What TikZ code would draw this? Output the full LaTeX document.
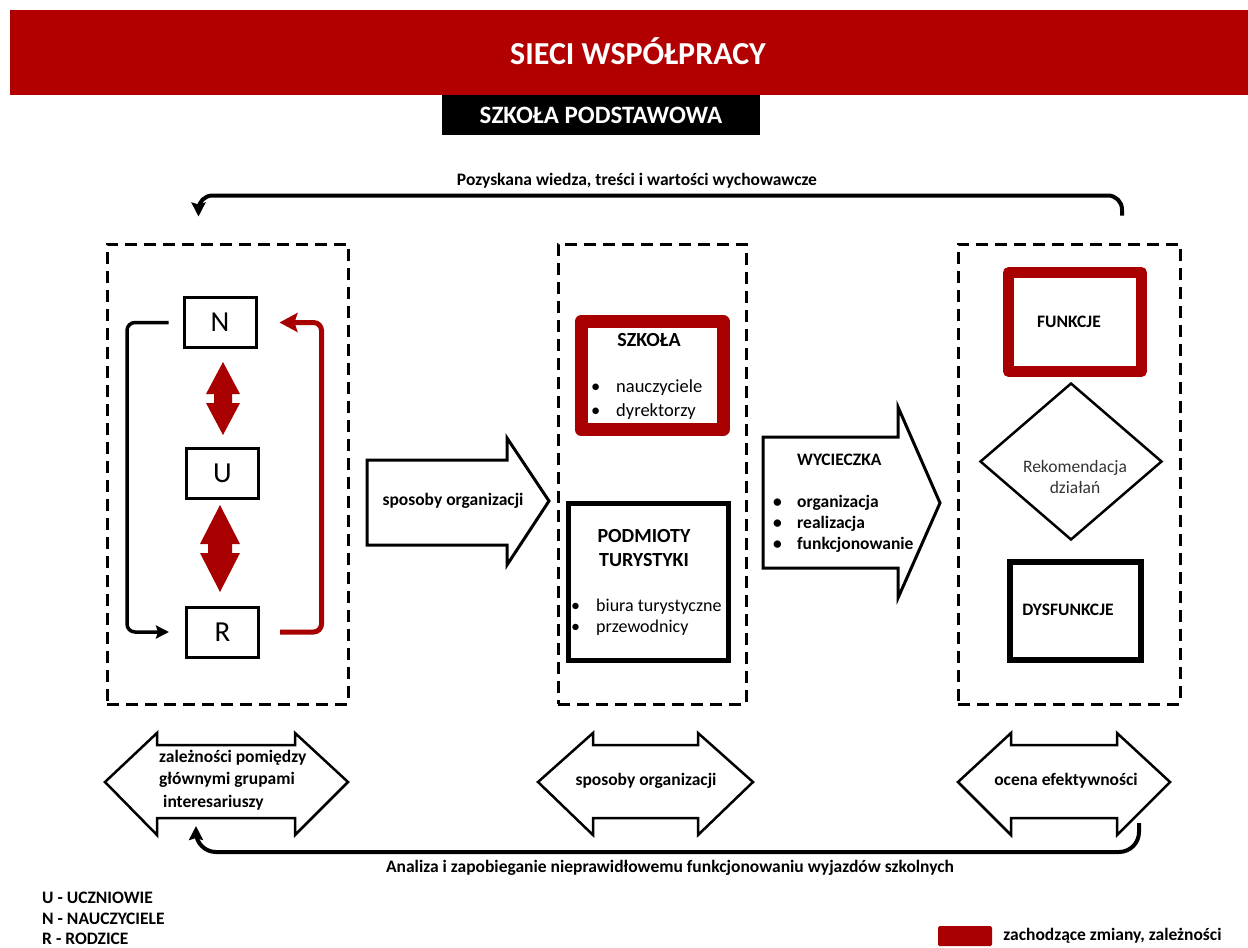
\documentclass[tikz,border=0pt]{standalone}
\usepackage{fontspec}
\setmainfont{Carlito}
\usetikzlibrary{positioning, calc, arrows.meta, shapes.geometric}
\definecolor{czerwien}{RGB}{178,0,0}
\definecolor{bordo}{RGB}{168,0,0}
\tikzset{
  opis/.style={font=\fontsize{17.5}{22.5}\selectfont\bfseries, inner sep=0pt},
  tekst/.style={font=\fontsize{18.5}{22}\selectfont, inner sep=0pt},
  naglowekbox/.style={font=\fontsize{20}{22}\selectfont\bfseries, inner sep=0pt},
  ramka/.style={draw, line width=3pt, dash pattern=on 12pt off 7pt, inner sep=0pt},
  litera/.style={draw, line width=3pt, minimum width=72, minimum height=50, inner sep=0pt, font=\fontsize{29}{30}\selectfont},
  kontur/.style={draw, line width=3pt, line join=miter},
  petla/.style={line width=3.5pt, rounded corners=8, -{Stealth[length=13pt, width=13pt, inset=2pt]}},
  czerwonapetla/.style={draw=bordo, line width=5pt, rounded corners=8, -{Stealth[length=18pt, width=19pt, inset=3pt]}},
  powrot/.style={line width=4pt, rounded corners=14, -{Stealth[length=14pt, width=14pt, inset=2pt]}}
}
\begin{document}
\begin{tikzpicture}[x=1pt, y=-1pt]
\useasboundingbox (0,0) rectangle (1248,948);
% naglowek
\node[fill=czerwien, minimum width=1238, minimum height=85, inner sep=0pt, anchor=north west] (pasek) at (10,10) {};
\node[font=\fontsize{32}{34}\selectfont\bfseries, text=white] (tytul) at (638,51) {SIECI WSPÓŁPRACY};
\node[fill=black, text=white, minimum width=318, minimum height=40, inner sep=0pt, font=\fontsize{25}{27}\selectfont\bfseries] (podtytul) at (601,115) {SZKOŁA PODSTAWOWA};

% ramki
\node[ramka, minimum width=241, minimum height=460] (ramkaL) at (227.5,474) {};
\node[ramka, minimum width=188, minimum height=460] (ramkaS) at (652,474) {};
\node[ramka, minimum width=222, minimum height=460] (ramkaP) at (1069,474) {};

% grupy N U R
\node[litera] (N) at (220,322.5) {N};
\node[litera] (U) at (222.5,473.5) {U};
\node[litera] (R) at (222.5,632) {R};
\draw[petla] ($(N.west)+(-14,0)$) -| ($(R.west)+(-58,0)$) -- ($(R.west)+(-16,0)$);
\draw[czerwonapetla] ($(R.east)+(20,0)$) -| ($(N.east)+(64,0)$) -- ($(N.east)+(22,0)$);
\fill[bordo] (223,362) -- (206,394) -- (214,394) -- (214,403) -- (206,403) -- (223,435)
  -- (240,403) -- (232,403) -- (232,394) -- (240,394) -- cycle;
\fill[bordo] (220,505) -- (200,544) -- (208,544) -- (208,553) -- (200,553) -- (220,592)
  -- (240,553) -- (232,553) -- (232,544) -- (240,544) -- cycle;

% strzalka sposoby organizacji
\draw[kontur] (367,460) -- (507,460) -- (507,438) -- (549,501) -- (507,565) -- (507,545) -- (367,545) -- cycle;
\node[opis] (sposob) at (453,501) {sposoby organizacji};

% szkola i podmioty
\node[draw=bordo, line width=13pt, line join=round, minimum width=142, minimum height=108] (szkolaBox) at (652,375.5) {};
\node[naglowekbox] (szkolaT) at (649,340) {SZKOŁA};
\node[tekst, anchor=base west] (naucz) at (591,392) {\makebox[25pt][l]{\textbullet}nauczyciele};
\node[tekst, anchor=base west] (dyrek) at (591,416) {\makebox[25pt][l]{\textbullet}dyrektorzy};
\node[draw, line width=5pt, minimum width=160, minimum height=157] (podmioty) at (648.5,582) {};
\node[naglowekbox, align=center] (podmiotyT) at (644,548) {PODMIOTY\\[2pt]TURYSTYKI};
\node[tekst, font=\fontsize{18}{22}\selectfont, anchor=base west] (biura) at (571,611) {\makebox[25pt][l]{\textbullet}biura turystyczne};
\node[tekst, font=\fontsize{18}{22}\selectfont, anchor=base west] (przew) at (571,632) {\makebox[25pt][l]{\textbullet}przewodnicy};

% strzalka wycieczka
\draw[kontur] (763,437) -- (898,437) -- (898,407) -- (940,503) -- (898,598) -- (898,568) -- (763,568) -- cycle;
\node[opis, anchor=base west] (wyc) at (797,465) {WYCIECZKA};
\node[opis, anchor=base west] (org) at (773,507) {\makebox[24pt][l]{\textbullet}organizacja};
\node[opis, anchor=base west] (real) at (773,528) {\makebox[24pt][l]{\textbullet}realizacja};
\node[opis, anchor=base west] (funk) at (773,549) {\makebox[24pt][l]{\textbullet}funkcjonowanie};

% funkcje / dysfunkcje
\node[draw=bordo, line width=11pt, line join=round, minimum width=133, minimum height=99] (funkcje) at (1075,322) {};
\node[opis] (funkcjeT) at (1069,322) {FUNKCJE};
\node[draw, diamond, line width=2.5pt, minimum width=182, minimum height=157, inner sep=0pt] (rekom) at (1071,461.5) {};
\node[font=\fontsize{17.5}{20.5}\selectfont, text=black!80, align=center] (rekomT) at (1075,477) {Rekomendacja\\działań};
\node[draw, line width=6pt, minimum width=131, minimum height=98] (dysf) at (1075.5,611) {};
\node[opis] (dysfT) at (1068,610) {DYSFUNKCJE};

% dolne strzalki
\draw[kontur, line width=2.5pt] (105,782) -- (157,733) -- (157,745) -- (295,745) -- (295,733) -- (348,782)
  -- (295,835) -- (295,818) -- (157,818) -- (157,835) -- cycle;
\draw[kontur, line width=2.5pt] (538,782) -- (593,733) -- (593,745) -- (698,745) -- (698,733) -- (753,782)
  -- (698,835) -- (698,818) -- (593,818) -- (593,835) -- cycle;
\draw[kontur, line width=2.5pt] (958,782) -- (1011,733) -- (1011,745) -- (1117,745) -- (1117,733) -- (1170,782)
  -- (1117,835) -- (1117,818) -- (1011,818) -- (1011,835) -- cycle;
\node[opis, align=left, anchor=west] (zalez) at (159,780) {zależności pomiędzy\\głównymi grupami\\\hspace*{4pt}interesariuszy};
\node[opis] (sposob2) at (646,781) {sposoby organizacji};
\node[opis] (ocena) at (1066,781) {ocena efektywności};

% petle zwrotne
\coordinate (gS) at ($(ramkaP.north)+(53,-27)$);
\coordinate (gK) at ($(ramkaL.north)+(-29,-26)$);
\draw[powrot] (gS) |- ($(gK)+(0,-21)$) -- (gK);
\node[opis] (pozysk) at (637,181) {Pozyskana wiedza, treści i wartości wychowawcze};
\coordinate (dS) at (1139,823);
\coordinate (dK) at (196,826);
\draw[powrot, rounded corners=20] (dS) |- ($(dK)+(0,26)$) -- (dK);
\node[opis] (analiza) at (670,868) {Analiza i zapobieganie nieprawidłowemu funkcjonowaniu wyjazdów szkolnych};

% legenda
\node[opis, anchor=base west] (legU) at (42,903.5) {U - UCZNIOWIE};
\node[opis, anchor=base west] (legN) at (42,924) {N - NAUCZYCIELE};
\node[opis, anchor=base west] (legR) at (42,944) {R - RODZICE};
\node[fill=bordo, minimum width=54, minimum height=20, rounded corners=1.5, inner sep=0pt] (legKol) at (965,936) {};
\node[opis, right=11pt of legKol] (legTxt) {zachodzące zmiany, zależności};
\end{tikzpicture}
\end{document}
